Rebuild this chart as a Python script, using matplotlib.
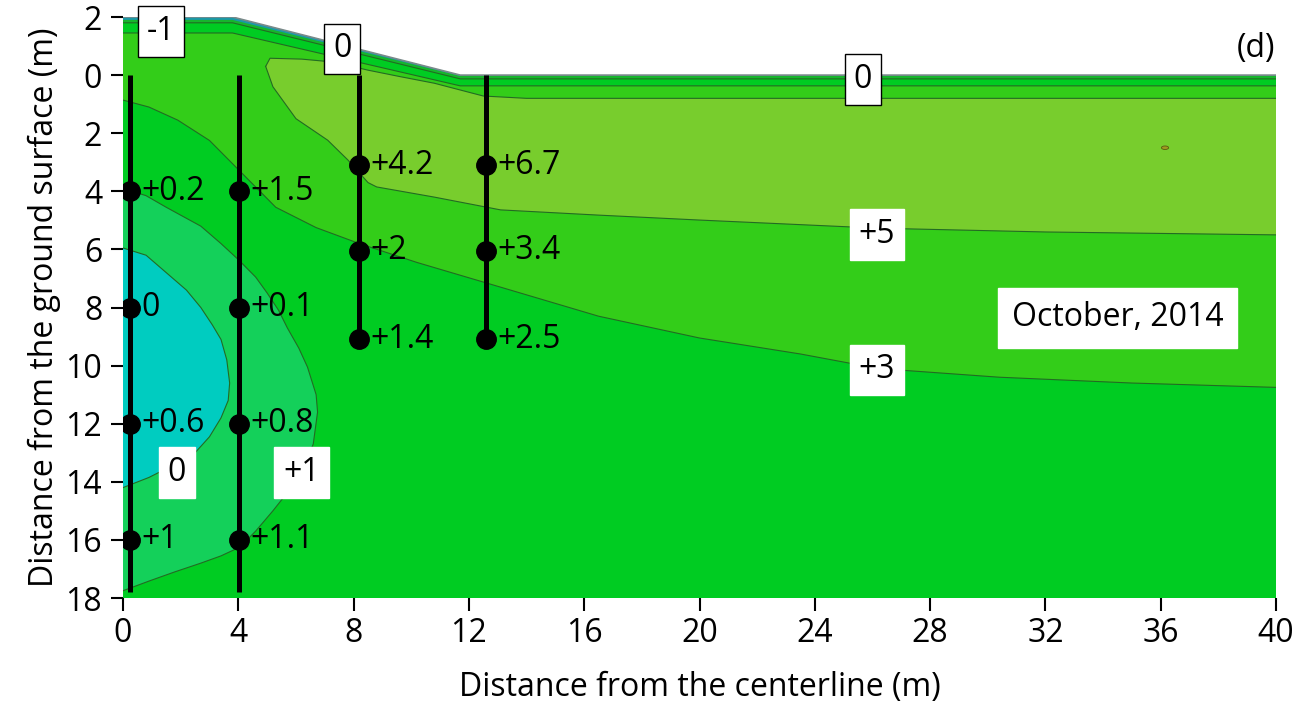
import matplotlib
matplotlib.use('Agg')
import matplotlib.pyplot as plt
from matplotlib.patches import Ellipse

plt.rcParams['font.family'] = ['Open Sans', 'DejaVu Sans']

# ground / embankment surface (depth, m; negative = above ground)
surf_x = [0, 3.8, 11.7, 40]
surf_d = [-2.0, -2.0, 0.0, 0.0]
# thin near-surface bands
blue_d = [-1.9, -1.9, 0.03, 0.03]
dark_d = [-1.8, -1.8, 0.13, 0.13]
top3_d = [-1.45, -1.45, 0.37, 0.37]

# +3 isotherm (deep)
c3_x = [0, 0.9, 1.9, 3.0, 4.1, 5.3, 6.7, 8.2, 10.2, 13.1, 16.5, 20, 23.5, 26.2, 30.4, 35, 40]
c3_d = [0.86, 1.1, 1.55, 2.25, 3.35, 4.55, 5.25, 5.8, 6.45, 7.3, 8.3, 9.05, 9.6, 10.1, 10.4, 10.6, 10.75]

# +5 region (closed)
g5_x = [4.95, 5.1, 6.2, 7.3, 8.5, 9.6, 10.8, 12.5, 14, 20, 30, 40,
        40, 32, 26.2, 20, 16.5, 13.1, 10.8, 8.8, 8.5, 7.8, 7.1, 6.0, 5.2, 4.95]
g5_d = [-0.3, -0.58, -0.55, -0.45, -0.17, 0.05, 0.28, 0.72, 0.8, 0.8, 0.8, 0.8,
        5.5, 5.4, 5.27, 4.99, 4.82, 4.64, 4.2, 3.85, 3.7, 2.92, 2.24, 1.5, 0.4, -0.3]

# +1 isotherm (closes on the centerline)
c1_x = [0, 0.8, 1.5, 2.7, 3.4, 4.0, 4.6, 5.0, 5.4, 5.7, 6.1, 6.4, 6.7, 6.75, 6.6,
        6.15, 5.6, 5.2, 4.6, 4.05, 3.4, 2.7, 1.8, 0.95, 0]
c1_d = [3.9, 4.15, 4.55, 5.2, 5.8, 6.35, 6.95, 7.5, 8.1, 8.7, 9.4, 10.05, 11.0, 11.6, 12.7,
        13.8, 14.5, 15.0, 15.7, 16.25, 16.55, 16.8, 17.1, 17.4, 17.75]

# 0 isotherm
c0_x = [0, 0.8, 1.5, 2.2, 2.7, 3.1, 3.4, 3.6, 3.7, 3.65, 3.4, 3.0, 2.5, 2.0, 1.4, 0.9, 0]
c0_d = [5.95, 6.2, 6.8, 7.4, 8.0, 8.6, 9.1, 9.8, 10.6, 11.2, 11.8, 12.45, 13.0, 13.3, 13.6, 13.85, 14.2]

# boreholes and measured values
bh_x = [0.25, 4.03, 8.2, 12.6]
bh_bottom = [17.8, 17.8, 9.1, 9.1]
bh_depths = [[4, 8, 12, 16], [4, 8, 12, 16], [3.1, 6.05, 9.1], [3.1, 6.05, 9.1]]
bh_labels = [['+0.2', '0', '+0.6', '+1'], ['+1.5', '+0.1', '+0.8', '+1.1'],
             ['+4.2', '+2', '+1.4'], ['+6.7', '+3.4', '+2.5']]

# isotherm labels: (x, depth, text, boxed edge)
iso_labels = [(1.32, -1.5, '-1', True), (7.6, -0.9, '0', True), (25.67, 0.14, '0', True),
              (26.15, 5.5, '+5', False), (26.15, 10.15, '+3', False),
              (1.87, 13.67, '0', False), (6.19, 13.67, '+1', False)]

spot_xy = (36.15, 2.5)

c_base = '#00CC22'
c_3 = '#33CD19'
c_5 = '#78CD2D'
c_1 = '#14D05A'
c_0 = '#00CCC0'
c_line = '#236B23'
fs = 23

fig = plt.figure(figsize=(13.01, 7.08), dpi=100)
ax = fig.add_axes([123/1301, 1-598/708, (1276-123)/1301, (598-17)/708])

# domain
ax.fill(surf_x + [40, 0], surf_d + [18, 18], color=c_base, lw=0)
# 3..5 zone
ax.fill(surf_x + [40] + c3_x[::-1], top3_d + [c3_d[-1]] + c3_d[::-1], color=c_3, lw=0)
ax.fill(g5_x, g5_d, color=c_5, lw=0)
ax.fill(c1_x, c1_d, color=c_1, lw=0)
ax.fill(c0_x, c0_d, color=c_0, lw=0)
# near surface
ax.fill(surf_x + surf_x[::-1], surf_d + dark_d[::-1], color='#17B52C', lw=0)
ax.fill(surf_x + surf_x[::-1], surf_d + blue_d[::-1], color='#1B98A8', lw=0)
ax.add_patch(Ellipse(spot_xy, 0.25, 0.12, fc='#A09A20', ec='#5a5a10', lw=0.6))

# isotherm lines
for xs, ds in [(surf_x, dark_d), (surf_x, top3_d), (c3_x, c3_d), (g5_x[:12], g5_d[:12]),
               (g5_x[12:], g5_d[12:]), (c1_x, c1_d), (c0_x, c0_d)]:
    ax.plot(xs, ds, color=c_line, lw=0.8)
ax.plot(surf_x, surf_d, color='#7a8a8a', lw=1.2)

# boreholes
for x, bot, ds, labs in zip(bh_x, bh_bottom, bh_depths, bh_labels):
    ax.plot([x, x], [0, bot], color='black', lw=3.6, solid_capstyle='butt')
    ax.plot([x] * len(ds), ds, 'o', color='black', ms=14)
    for d, t in zip(ds, labs):
        ax.annotate(t, (x, d), xytext=(8, 0), textcoords='offset points',
                    ha='left', va='center', fontsize=fs)

for x, d, t, edge in iso_labels:
    ax.text(x, d, t, ha='center', va='center', fontsize=fs,
            bbox=dict(boxstyle='square,pad=0.28', fc='white',
                      ec='black' if edge else 'white', lw=1))

ax.text(34.5, 8.36, 'October, 2014', ha='center', va='center', fontsize=fs,
        bbox=dict(boxstyle='square,pad=0.42', fc='white', ec='white'))
ax.text(39.3, -0.93, '(d)', ha='center', va='center', fontsize=fs)

ax.set_xlim(0, 40)
ax.set_ylim(18, -2)
yt = list(range(-2, 19, 2))
ax.set_yticks(yt)
ax.set_yticklabels([str(abs(v)) for v in yt])
ax.set_xticks(range(0, 41, 4))
for s in ax.spines.values():
    s.set_visible(False)
ax.tick_params(axis='both', labelsize=fs, length=9, width=1.5, direction='out')
ax.tick_params(axis='y', pad=6)
ax.tick_params(axis='x', pad=5)
ax.set_xlabel('Distance from the centerline (m)', fontsize=fs, labelpad=15)
ax.set_ylabel('Distance from the ground surface (m)', fontsize=fs, labelpad=3)

fig.savefig('out.png', dpi=100)
